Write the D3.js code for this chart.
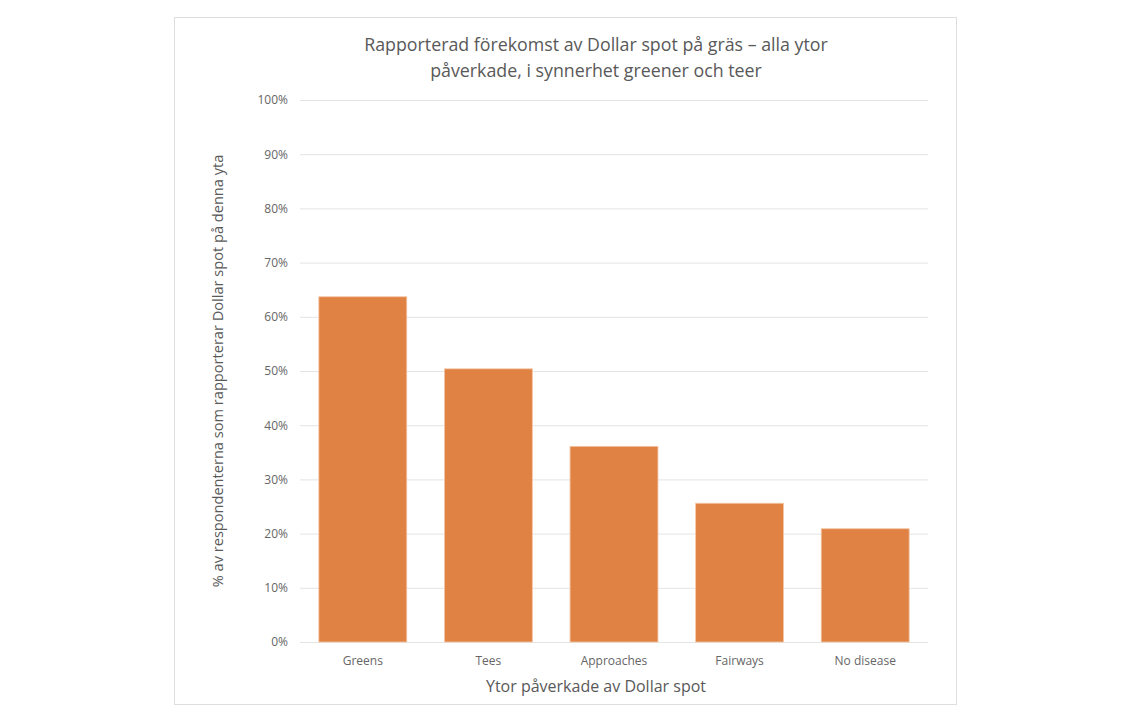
<!DOCTYPE html>
<html lang="sv">
<head>
<meta charset="UTF-8">
<title>Dollar spot</title>
<script src="https://d3js.org/d3.v7.min.js"></script>
<style>
  body { margin: 0; background: #fff; font-family: "Open Sans", sans-serif; }
  .card { position: absolute; left: 174px; top: 17px; width: 783px; height: 688px;
          border: 1px solid #dedede; box-sizing: border-box; }
  svg { position: absolute; left: 0; top: 0; }
</style>
</head>
<body>
<div class="card"></div>
<div id="chart"></div>
<script>
const categories = ["Greens", "Tees", "Approaches", "Fairways", "No disease"];
const values = [63.7, 50.4, 36.1, 25.6, 20.9];
const yTicks = [0, 10, 20, 30, 40, 50, 60, 70, 80, 90, 100];
const titleLines = ["Rapporterad förekomst av Dollar spot på gräs – alla ytor",
                    "påverkade, i synnerhet greener och teer"];
const xTitle = "Ytor påverkade av Dollar spot";
const yTitle = "% av respondenterna som rapporterar Dollar spot på denna yta";

const W = 1132, H = 724;
const plot = { left: 300, right: 928, top: 100, bottom: 642 };

const svg = d3.select("#chart").append("svg")
  .attr("width", W).attr("height", H);

const x = d3.scaleBand()
  .domain(categories)
  .range([plot.left, plot.right])
  .paddingInner(0.3)
  .paddingOuter(0.15);

const y = d3.scaleLinear()
  .domain([0, 100])
  .range([plot.bottom, plot.top]);

// gridlines + y labels
const yAxis = svg.append("g")
  .attr("transform", `translate(${plot.left},0)`)
  .call(d3.axisLeft(y).tickValues(yTicks).tickSize(-(plot.right - plot.left))
    .tickPadding(12).tickFormat(d => d + "%"));
yAxis.select(".domain").remove();
yAxis.selectAll("line").attr("stroke", "#e4e4e4").attr("stroke-width", 1);
yAxis.selectAll("text").attr("fill", "#666").style("font-size", "12px")
  .style("font-family", "'Open Sans', sans-serif");

// bars
svg.selectAll("rect.bar")
  .data(categories)
  .enter().append("rect")
  .attr("class", "bar")
  .attr("x", d => x(d))
  .attr("y", (d, i) => y(values[i]))
  .attr("width", x.bandwidth())
  .attr("height", (d, i) => y(0) - y(values[i]))
  .attr("fill", "#e08244")
  .attr("stroke", "#f3c7a6")
  .attr("stroke-width", 0.8);

// x labels
const xAxis = svg.append("g")
  .attr("transform", `translate(0,${plot.bottom})`)
  .call(d3.axisBottom(x).tickSize(0).tickPadding(14));
xAxis.select(".domain").remove();
xAxis.selectAll("text").attr("fill", "#666").style("font-size", "12px")
  .style("font-family", "'Open Sans', sans-serif");

// title
svg.append("text")
  .attr("x", 596).attr("y", 51)
  .attr("text-anchor", "middle")
  .attr("fill", "#595959")
  .style("font-size", "17.8px")
  .selectAll("tspan")
  .data(titleLines)
  .enter().append("tspan")
  .attr("x", 596)
  .attr("dy", (d, i) => i === 0 ? 0 : 26)
  .text(d => d);

// x axis title
svg.append("text")
  .attr("x", 596).attr("y", 692)
  .attr("text-anchor", "middle")
  .attr("fill", "#595959")
  .style("font-size", "16px")
  .text(xTitle);

// y axis title
svg.append("text")
  .attr("transform", `translate(223,${(plot.top + plot.bottom) / 2}) rotate(-90)`)
  .attr("text-anchor", "middle")
  .attr("fill", "#595959")
  .style("font-size", "14.6px")
  .text(yTitle);
</script>
</body>
</html>
